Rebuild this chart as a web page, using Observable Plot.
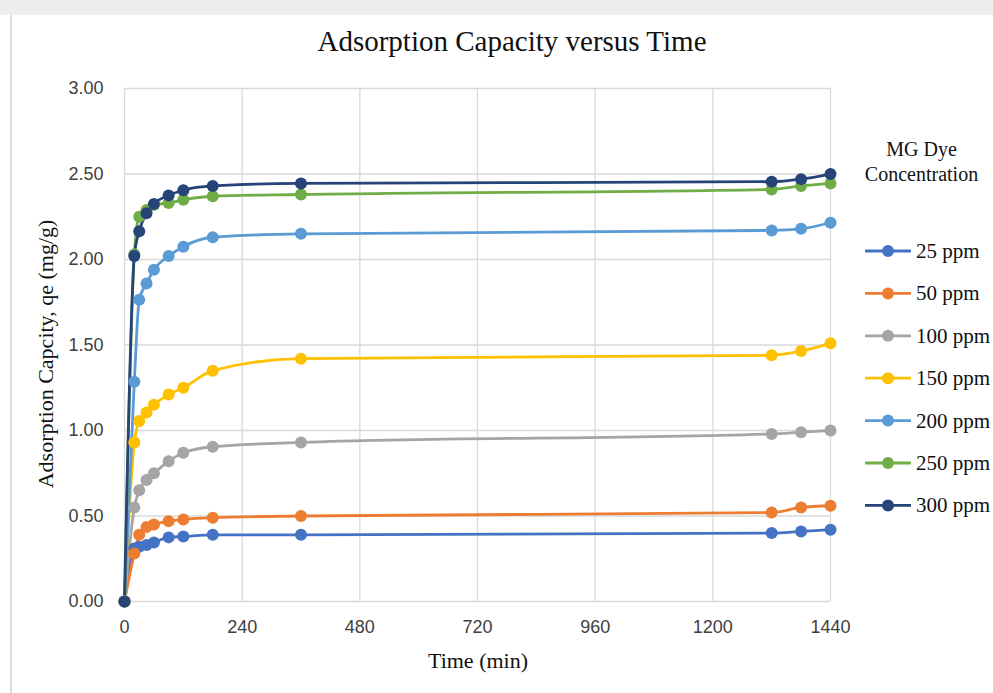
<!DOCTYPE html>
<html><head><meta charset="utf-8">
<script src="https://cdn.jsdelivr.net/npm/d3@7"></script>
<script src="https://cdn.jsdelivr.net/npm/@observablehq/plot@0.6"></script>
<style>
body{margin:0;background:#fff;width:993px;height:693px;overflow:hidden;position:relative;font-family:"Liberation Serif","Times New Roman",serif;color:#111}
#topbar{position:absolute;left:0;top:0;width:993px;height:15px;background:#eeeeee}
#leftline{position:absolute;left:10px;top:15px;width:2px;height:678px;background:#dcdcdc}
#chart{position:absolute;left:0;top:0}
#title{position:absolute;top:25px;left:0;width:1024px;text-align:center;font-size:29px;white-space:nowrap}
#xlabel{position:absolute;top:648px;left:0;width:956px;text-align:center;font-size:22px}
#ylabel{position:absolute;left:46px;top:354px;transform:translate(-50%,-50%) rotate(-90deg);font-size:22px;white-space:nowrap}
#legtitle{position:absolute;left:850px;top:137px;width:143px;text-align:center;font-size:20px;line-height:25px}
#legend{position:absolute;left:0;top:0;width:993px;height:693px;pointer-events:none}
</style></head>
<body>
<div id="topbar"></div>
<div id="leftline"></div>
<div id="chart"></div>
<div id="title">Adsorption Capacity versus Time</div>
<div id="xlabel">Time (min)</div>
<div id="ylabel">Adsorption Capcity, qe (mg/g)</div>
<div id="legtitle">MG Dye<br>Concentration</div>
<svg id="legend" width="993" height="693"></svg>
<script>
const times = [0, 20, 30, 45, 60, 90, 120, 180, 360, 1320, 1380, 1440];
const seriesNames = ["25 ppm", "50 ppm", "100 ppm", "150 ppm", "200 ppm", "250 ppm", "300 ppm"];
const seriesColors = ["#4472C4", "#ED7D31", "#A5A5A5", "#FFC000", "#5B9BD5", "#70AD47", "#264478"];
const q25  = [0, 0.31, 0.32, 0.33, 0.345, 0.375, 0.38, 0.39, 0.39, 0.40, 0.41, 0.42];
const q50  = [0, 0.28, 0.39, 0.435, 0.45, 0.47, 0.48, 0.49, 0.50, 0.52, 0.55, 0.56];
const q100 = [0, 0.55, 0.65, 0.71, 0.75, 0.82, 0.87, 0.905, 0.93, 0.98, 0.99, 1.00];
const q150 = [0, 0.93, 1.055, 1.105, 1.15, 1.21, 1.25, 1.35, 1.42, 1.44, 1.465, 1.51];
const q200 = [0, 1.285, 1.765, 1.86, 1.94, 2.02, 2.075, 2.13, 2.15, 2.17, 2.18, 2.215];
const q250 = [0, 2.03, 2.25, 2.29, 2.32, 2.33, 2.35, 2.37, 2.38, 2.41, 2.43, 2.445];
const q300 = [0, 2.02, 2.165, 2.27, 2.325, 2.375, 2.405, 2.43, 2.445, 2.455, 2.47, 2.50];
const xTicks = [0, 240, 480, 720, 960, 1200, 1440];
const yTicks = [0, 0.5, 1, 1.5, 2, 2.5, 3];

const allSeries = [q25, q50, q100, q150, q200, q250, q300];
const rows = [];
allSeries.forEach((vals, si) => {
  vals.forEach((v, i) => rows.push({series: seriesNames[si], t: times[i], q: v}));
});

const chart = Plot.plot({
  width: 993, height: 693,
  marginLeft: 124, marginRight: 163, marginTop: 88, marginBottom: 92,
  style: {fontFamily: "'Liberation Sans', Arial, sans-serif", fontSize: "18px", color: "#404040", background: "transparent"},
  x: {domain: [0, 1440], ticks: xTicks, tickSize: 0, tickPadding: 19, tickFormat: d3.format("d"), label: null},
  y: {domain: [0, 3], ticks: yTicks, tickSize: 0, tickPadding: 21, tickFormat: d3.format(".2f"), label: null},
  color: {domain: seriesNames, range: seriesColors},
  marks: [
    Plot.gridX(xTicks, {stroke: "#d9d9d9", strokeOpacity: 1, strokeWidth: 1.3}),
    Plot.gridY(yTicks, {stroke: "#d9d9d9", strokeOpacity: 1, strokeWidth: 1.3}),
    Plot.axisX({ticks: xTicks, tickSize: 0, tickPadding: 19, tickFormat: d3.format("d"), fontSize: 18}),
    Plot.axisY({ticks: yTicks, tickSize: 0, tickPadding: 21, tickFormat: d3.format(".2f"), fontSize: 18}),
    Plot.line(rows, {x: "t", y: "q", z: "series", stroke: "series", strokeWidth: 2.8, curve: "monotone-x"}),
    Plot.dot(rows, {x: "t", y: "q", fill: "series", r: 6})
  ]
});
document.getElementById("chart").appendChild(chart);

// legend
const leg = d3.select("#legend");
seriesNames.forEach((name, i) => {
  const y = 251 + i * 42.4;
  leg.append("line").attr("x1", 865).attr("x2", 911).attr("y1", y).attr("y2", y)
    .attr("stroke", seriesColors[i]).attr("stroke-width", 2.8);
  leg.append("circle").attr("cx", 888).attr("cy", y).attr("r", 6).attr("fill", seriesColors[i]);
  leg.append("text").attr("x", 916).attr("y", y + 7).attr("font-size", 21)
    .attr("font-family", "'Liberation Serif', 'Times New Roman', serif").attr("fill", "#111").text(name);
});
</script>
</body></html>
